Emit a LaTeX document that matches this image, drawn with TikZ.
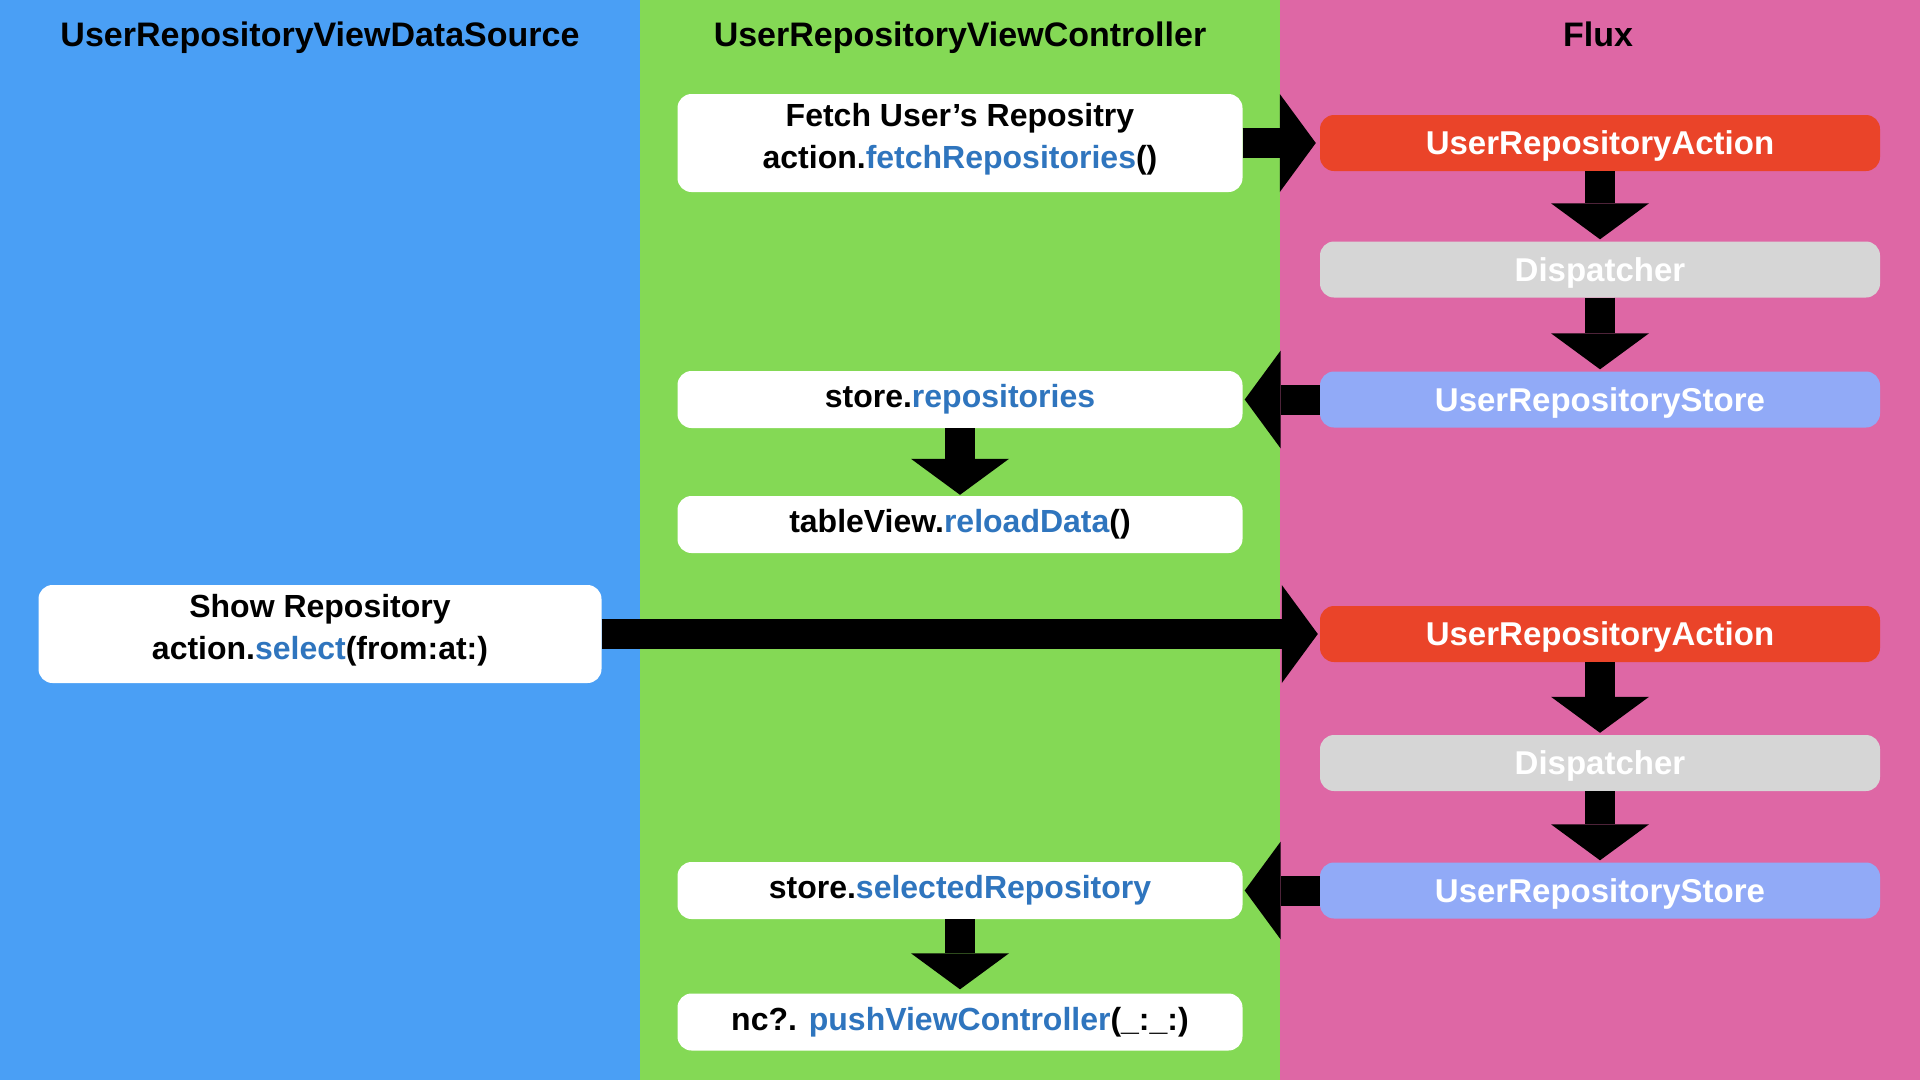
\documentclass[tikz,border=0pt]{standalone}
\usepackage{fontspec}
\setmainfont{Liberation Sans}
\usetikzlibrary{arrows.meta}

\definecolor{dsblue}{RGB}{74,159,245}
\definecolor{vcgreen}{RGB}{132,217,85}
\definecolor{fluxpink}{RGB}{222,103,165}
\definecolor{actred}{RGB}{234,68,41}
\definecolor{dispgray}{RGB}{214,214,214}
\definecolor{storeblue}{RGB}{145,170,247}
\definecolor{linkblue}{RGB}{47,117,190}

\newcommand{\fn}[1]{\textcolor{linkblue}{#1}}

\tikzset{
  box/.style={rounded corners=14pt, minimum width=565pt, inner sep=0pt, align=center,
    font=\fontsize{32}{42}\selectfont\bfseries},
  wbox/.style={box, fill=white, text=black},
  twoline/.style={wbox, minimum height=98pt, text depth=15pt},
  fluxbox/.style={box, minimum width=560pt, minimum height=56pt, text=white, text depth=0pt,
    font=\fontsize{33}{40}\selectfont\bfseries},
  header/.style={font=\fontsize{34}{40}\selectfont\bfseries, text=black, text depth=0pt, inner sep=0pt},
  flow/.style={line width=30pt, -{Triangle[width=98pt,length=36pt,line width=0pt]}},
}

\begin{document}
\begin{tikzpicture}[x=1pt, y=-1pt]
        \useasboundingbox (0,0) rectangle (1920,1080);
        \fill[dsblue] (0,0) rectangle (640,1080);
        \fill[vcgreen] (640,0) rectangle (1280,1080);
        \fill[fluxpink] (1280,0) rectangle (1920,1080);

        \node[header] (hds) at (320,34) {UserRepositoryViewDataSource};
        \node[header] (hvc) at (960,34) {UserRepositoryViewController};
        \node[header] (hflux) at (1598,34) {Flux};

        % fetch
        \node[twoline] (fetch) at (960,143) {Fetch User’s Repositry\\action.\fn{fetchRepositories}()};
        \node[fluxbox, fill=actred] (act1) at (1600,143) {UserRepositoryAction};
        \node[fluxbox, fill=dispgray] (disp1) at (1600,269.5) {Dispatcher};
        \node[fluxbox, fill=storeblue] (store1) at (1600,399.5) {UserRepositoryStore};
        \node[wbox, minimum height=57pt] (repos) at (960,399.5) {store.\fn{repositories}};
        \node[wbox, minimum height=57pt] (reload) at (960,524.5) {tableView.\fn{reloadData}()};

        % select
        \node[twoline, minimum width=563pt] (show) at (320,634) {Show Repository\\action.\fn{select}(from:at:)};
        \node[fluxbox, fill=actred] (act2) at (1600,634) {UserRepositoryAction};
        \node[fluxbox, fill=dispgray] (disp2) at (1600,763) {Dispatcher};
        \node[fluxbox, fill=storeblue] (store2) at (1600,890.5) {UserRepositoryStore};
        \node[wbox, minimum height=57pt] (selrepo) at (960,890.5) {store.\fn{selectedRepository}};
        \node[wbox, minimum height=57pt] (push) at (960,1022) {nc?. \fn{pushViewController}(\_:\_:)};

        \draw[flow, shorten >=4pt] (fetch.east) -- (act1.west);
        \draw[flow, shorten >=2pt] (act1.south) -- (disp1.north);
        \draw[flow, shorten >=2pt] (disp1.south) -- (store1.north);
        \draw[flow, shorten >=2pt] (store1.west) -- (repos.east);
        \draw[flow, shorten >=1pt] (repos.south) -- (reload.north);

        \draw[flow, shorten >=2pt] (show.east) -- (act2.west);
        \draw[flow, shorten >=2pt] (act2.south) -- (disp2.north);
        \draw[flow, shorten >=2pt] (disp2.south) -- (store2.north);
        \draw[flow, shorten >=2pt] (store2.west) -- (selrepo.east);
        \draw[flow, shorten >=4pt] (selrepo.south) -- (push.north);
\end{tikzpicture}
\end{document}
